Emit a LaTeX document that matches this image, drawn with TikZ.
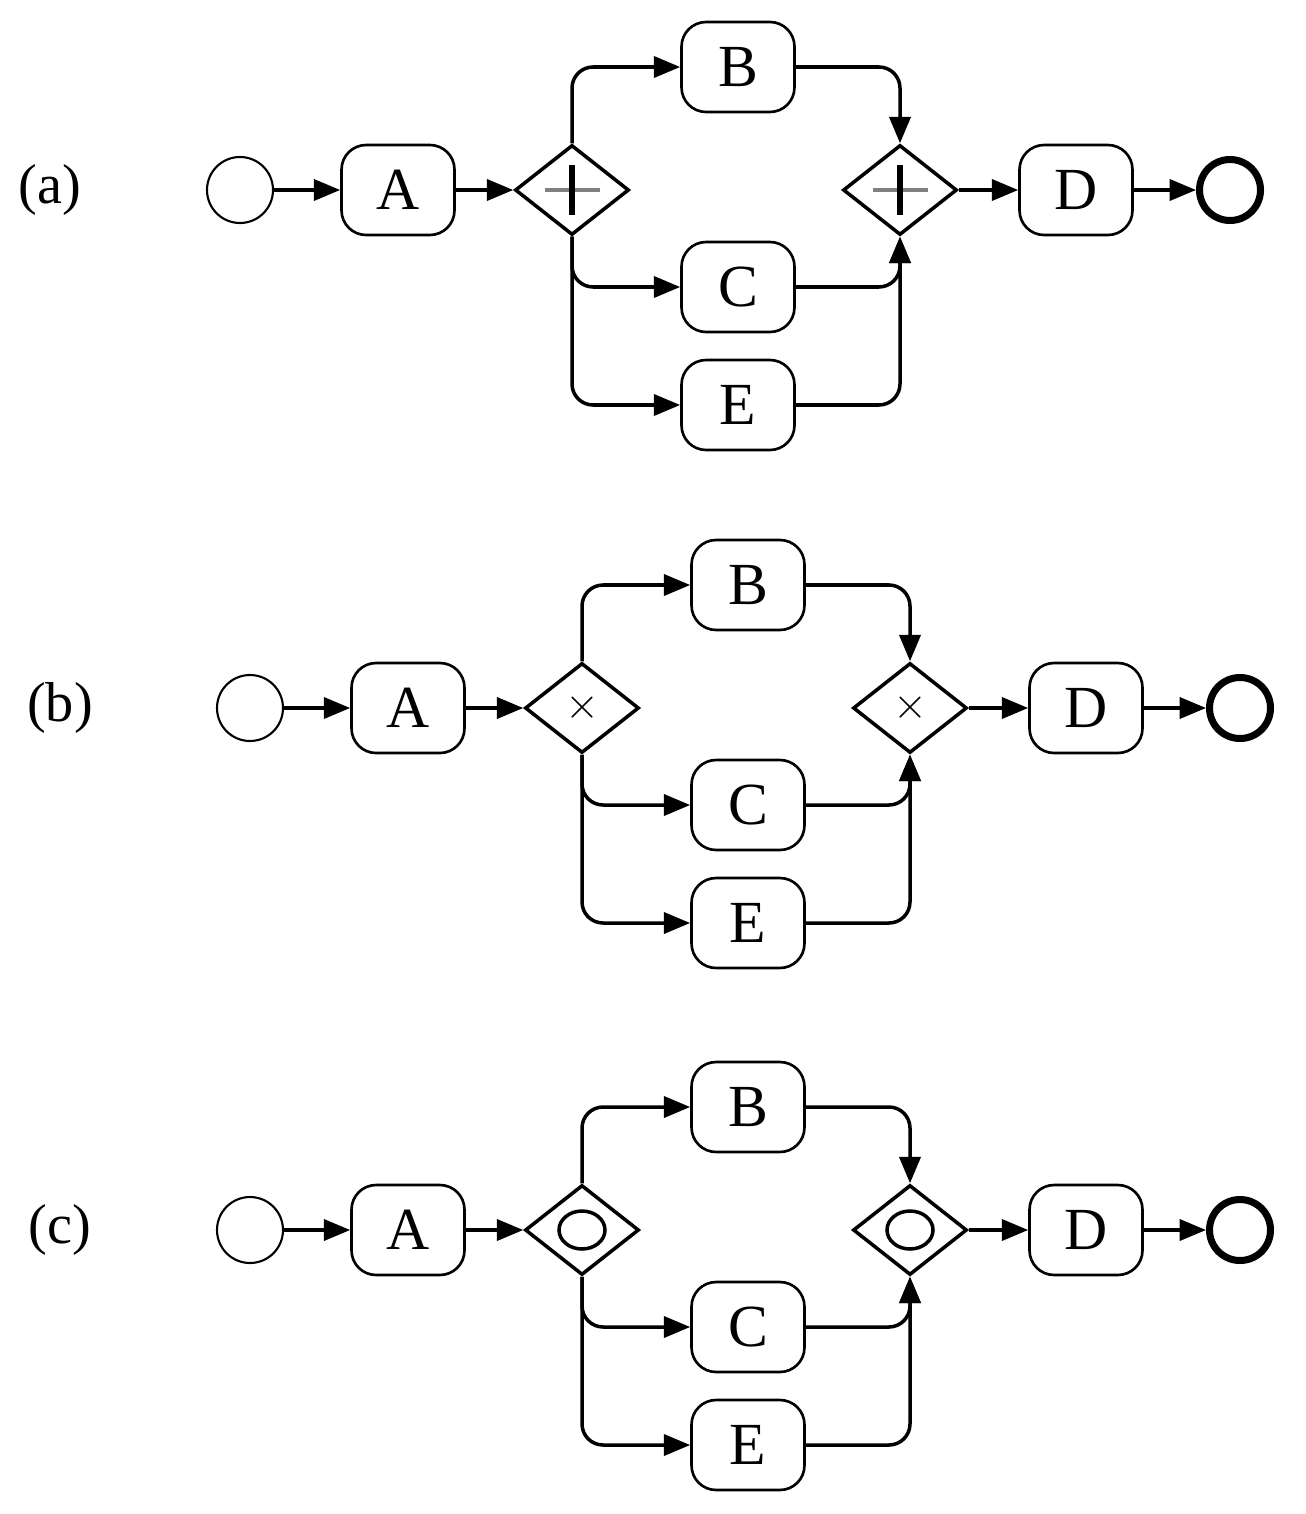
\documentclass[tikz,border=0pt]{standalone}
\usepackage{fontspec}
\setmainfont{Liberation Serif}
\usetikzlibrary{shapes.geometric,arrows.meta}
\begin{document}
\begin{tikzpicture}[x=0.02cm,y=-0.02cm,
 task/.style={draw,line width=1.5pt,rounded corners=14pt,minimum width=2.26cm,minimum height=1.8cm,font=\fontsize{34}{38}\selectfont,inner sep=0pt},
 gw/.style={draw,diamond,line width=2pt,minimum width=2.28cm,minimum height=1.8cm,inner sep=0pt,aspect=1.27},
 ev/.style={draw,circle,line width=1.2pt,minimum size=1.32cm,inner sep=0pt},
 fl/.style={line width=2pt,-{Triangle[length=15pt,width=12pt]},rounded corners=12pt},
 lab/.style={font=\fontsize{32}{36}\selectfont}]
\useasboundingbox (0,0) rectangle (1305,1514);
\newcommand\bpmnrow[4]{%
\begin{scope}[shift={(#2,#3)}]
\node[lab] (#1l) at (50,0) {(#1)};
\node[ev] (#1s) at (240,0) {};
\node[task] (#1A) at (398,0) {A};
\node[gw] (#1g) at (572,0) {};
\node[task] (#1B) at (738,-123) {B};
\node[task] (#1C) at (738,97) {C};
\node[task] (#1E) at (738,215) {E};
\node[gw] (#1h) at (900,0) {};
\node[task] (#1D) at (1076,0) {D};
\node[ev,line width=4pt,minimum size=1.22cm] (#1e) at (1230,0) {};
\draw[fl] (#1s) -- (#1A);
\draw[fl] (#1A) -- (#1g);
\draw[fl] (#1g.north) |- (#1B);
\draw[fl] (#1g.south) |- (#1C);
\draw[fl] (#1g.south) |- (#1E);
\draw[fl] (#1B) -| (#1h.north);
\draw[fl] (#1C) -| (#1h.south);
\draw[fl] (#1E) -| (#1h.south);
\draw[fl] (#1h) -- (#1D);
\draw[fl] (#1D) -- (#1e);
\foreach \g in {#1g,#1h}{#4}
\end{scope}}
\bpmnrow{a}{0}{190}{\draw[gray,line width=2pt] ([xshift=-0.55cm]\g.center) -- ([xshift=0.55cm]\g.center);
 \draw[line width=3pt] ([yshift=-0.5cm]\g.center) -- ([yshift=0.5cm]\g.center);}
\bpmnrow{b}{10}{708}{\node[font=\fontsize{28}{30}\selectfont] at (\g.center) {$\times$};}
\bpmnrow{c}{10}{1230}{\draw[line width=2pt] (\g.center) ellipse (0.46cm and 0.38cm);}
\end{tikzpicture}
\end{document}
